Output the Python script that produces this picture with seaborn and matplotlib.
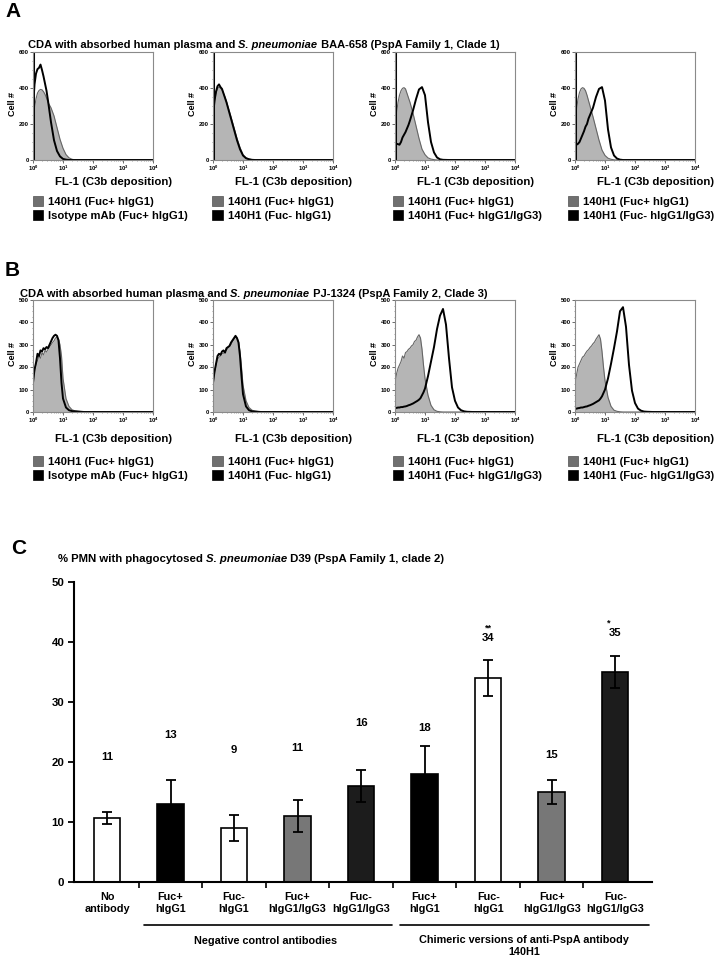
import numpy as np
import pandas as pd
import matplotlib
matplotlib.use("Agg")
import matplotlib.pyplot as plt
import seaborn as sns
from matplotlib.patches import Patch

sns.set_style("ticks")
plt.rcParams['font.family'] = ['Liberation Sans', 'DejaVu Sans']
plt.rcParams['font.weight'] = 'bold'
plt.rcParams['mathtext.fontset'] = 'custom'
plt.rcParams['mathtext.rm'] = 'Liberation Sans:bold'
plt.rcParams['mathtext.bf'] = 'Liberation Sans:bold'
plt.rcParams['mathtext.default'] = 'bf'
for k in ['text.color', 'axes.labelcolor', 'xtick.color', 'ytick.color']:
    plt.rcParams[k] = 'black'

# ---- data: flow histograms (x = log10 FL-1, y = cell count) ----
x_a = [0.0, 0.05, 0.1, 0.15, 0.2, 0.25, 0.3, 0.35, 0.4, 0.45, 0.5, 0.6, 0.7, 0.8,
       0.9, 1.0, 1.1, 1.2, 1.3, 1.4, 1.5, 1.6, 1.8, 4.0]
a1_gray = [230, 290, 340, 372, 386, 392, 390, 380, 365, 345, 320, 290, 245, 180, 115, 65, 30, 12, 4, 1, 0, 0, 0, 0]
a1_black = [290, 420, 480, 505, 512, 530, 500, 465, 425, 385, 330, 210, 110, 50, 20, 6, 2, 0, 0, 0, 0, 0, 0, 0]
a2_gray = [220, 310, 365, 395, 405, 400, 390, 370, 350, 325, 295, 240, 180, 120, 70, 30, 12, 5, 2, 0, 0, 0, 0, 0]
a2_black = [240, 330, 380, 410, 420, 405, 395, 370, 345, 320, 290, 230, 170, 110, 60, 25, 10, 4, 1, 0, 0, 0, 0, 0]
a3_gray = [220, 260, 320, 360, 385, 398, 402, 395, 370, 345, 320, 260, 190, 120, 60, 30, 12, 5, 2, 0, 0, 0, 0, 0]
a3_black = [95, 90, 88, 85, 100, 125, 140, 155, 175, 195, 220, 275, 338, 392, 405, 360, 210, 100, 42, 14, 4, 1, 0, 0]
a4_gray = [230, 280, 340, 375, 395, 402, 398, 385, 360, 330, 300, 240, 175, 110, 55, 25, 10, 4, 1, 0, 0, 0, 0, 0]
a4_black = [90, 85, 90, 100, 120, 140, 160, 185, 200, 230, 250, 290, 350, 395, 405, 330, 170, 70, 25, 8, 2, 0, 0, 0]
a_spike = [600, 600, 600, 600]

x_b = [0.0, 0.05, 0.1, 0.15, 0.2, 0.25, 0.3, 0.35, 0.4, 0.45, 0.5, 0.55, 0.6, 0.65, 0.7,
       0.75, 0.8, 0.85, 0.9, 0.95, 1.0, 1.1, 1.2, 1.3, 1.4, 1.5, 1.6, 1.7, 1.8, 1.9,
       2.0, 2.1, 2.2, 2.3, 2.4, 2.6, 4.0]
b1_gray = [125, 175, 210, 230, 250, 240, 265, 255, 275, 268, 280, 290, 300, 310, 318, 330, 335, 325, 300, 250,
           150, 60, 25, 10, 5, 3, 2, 1, 0, 0, 0, 0, 0, 0, 0, 0, 0]
b1_black = [130, 190, 220, 260, 250, 275, 270, 285, 280, 290, 285, 300, 315, 330, 340, 345, 340, 320, 240, 130,
            60, 20, 8, 4, 3, 2, 1, 0, 0, 0, 0, 0, 0, 0, 0, 0, 0]
b2_gray = [125, 170, 205, 235, 245, 250, 260, 262, 270, 275, 285, 292, 300, 315, 325, 335, 330, 315, 270, 200,
           120, 50, 20, 8, 4, 2, 1, 0, 0, 0, 0, 0, 0, 0, 0, 0, 0]
b2_black = [130, 180, 215, 250, 260, 255, 270, 275, 265, 285, 290, 295, 310, 320, 330, 340, 330, 310, 250, 160,
            80, 25, 8, 3, 2, 1, 0, 0, 0, 0, 0, 0, 0, 0, 0, 0, 0]
b3_gray = [130, 170, 195, 210, 225, 250, 240, 265, 270, 280, 285, 295, 300, 315, 320, 335, 345, 330, 280, 210,
           150, 75, 30, 10, 3, 1, 0, 0, 0, 0, 0, 0, 0, 0, 0, 0, 0]
b3_black = [20, 18, 20, 20, 22, 22, 24, 25, 27, 30, 32, 35, 38, 42, 46, 50, 55, 62, 75, 88,
            105, 160, 225, 290, 370, 430, 460, 390, 240, 110, 50, 20, 8, 3, 1, 0, 0]
b4_gray = [130, 165, 200, 215, 230, 245, 250, 262, 272, 278, 288, 295, 305, 312, 325, 335, 345, 325, 270, 200,
           140, 65, 25, 8, 3, 1, 0, 0, 0, 0, 0, 0, 0, 0, 0, 0, 0]
b4_black = [15, 15, 17, 18, 20, 20, 22, 24, 25, 28, 30, 33, 36, 40, 44, 48, 52, 60, 70, 85,
            100, 150, 215, 285, 360, 450, 468, 380, 210, 95, 40, 15, 6, 2, 1, 0, 0]

gray_label = '140H1 (Fuc+ hIgG1)'
black_labels = ['Isotype mAb (Fuc+ hIgG1)', '140H1 (Fuc- hIgG1)',
                '140H1 (Fuc+ hIgG1/IgG3)', '140H1 (Fuc- hIgG1/IgG3)']
hist_xticklabels = ['$10^0$', '$10^1$', '$10^2$', '$10^3$', '$10^4$']

# ---- data: phagocytosis bar chart ----
conditions = ['none', 'ctl_fucpos_g1', 'ctl_fucneg_g1', 'ctl_fucpos_g13', 'ctl_fucneg_g13',
              'mab_fucpos_g1', 'mab_fucneg_g1', 'mab_fucpos_g13', 'mab_fucneg_g13']
tick_labels = ['No\nantibody', 'Fuc+\nhIgG1', 'Fuc-\nhIgG1', 'Fuc+\nhIgG1/IgG3', 'Fuc-\nhIgG1/IgG3',
               'Fuc+\nhIgG1', 'Fuc-\nhIgG1', 'Fuc+\nhIgG1/IgG3', 'Fuc-\nhIgG1/IgG3']
pct_mean = [10.7, 13, 9, 11, 16, 18, 34, 15, 35]
pct_err = [1.0, 4.0, 2.2, 2.7, 2.6, 4.6, 3.0, 2.0, 2.7]
value_labels = ['11', '13', '9', '11', '16', '18', '34', '15', '35']
star_labels = ['', '', '', '', '', '', '**', '', '*']
bar_colors = ['white', 'black', 'white', '#777777', '#1c1c1c', 'black', 'white', '#777777', '#1c1c1c']

# ---- layout helpers (pixels) ----
W, H = 720, 958
fig = plt.figure(figsize=(7.2, 9.58), dpi=100)


def box(left, top, right, bottom):
    return [left / W, 1 - bottom / H, (right - left) / W, (bottom - top) / H]


def ftext(x, y, s, **kw):
    return fig.text(x / W, 1 - y / H, s, **kw)


def mixed_title(host, x, y, parts, size):
    prev = None
    for txt, style in parts:
        if prev is None:
            prev = ftext(x, y, txt, fontsize=size, fontweight='bold', style=style, va='bottom')
        else:
            prev = host.annotate(txt, xy=(1, 0), xycoords=prev, va='bottom', ha='left',
                                 fontsize=size, fontweight='bold', style=style, annotation_clip=False)


def hist_panel(rect, xs, gray, black, ymax, ystep, black_label, spike, xlab_y, leg_x, leg_y):
    ax = fig.add_axes(rect)
    ax.fill_between(xs, gray, color='#b5b5b5', lw=0)
    sns.lineplot(x=xs, y=gray, color='#666666', lw=0.8, estimator=None, sort=False, ax=ax)
    if spike:
        ax.vlines(0.0, 0, spike, color='black', lw=2.2)
    sns.lineplot(x=xs, y=black, color='black', lw=1.4, estimator=None, sort=False, ax=ax)
    ax.set_xlim(0, 4)
    ax.set_ylim(0, ymax)
    ax.set_xticks(range(5))
    ax.set_xticklabels(hist_xticklabels)
    ax.set_xticks([d + np.log10(k) for d in range(4) for k in range(2, 10)], minor=True)
    ax.set_yticks(np.arange(0, ymax + 1, ystep))
    ax.set_yticks(np.arange(0, ymax + 1, ystep / 4), minor=True)
    ax.tick_params(which='major', labelsize=4.2, length=2, width=0.6, pad=1, color='#555555')
    ax.tick_params(which='minor', length=1, width=0.4, color='#555555')
    for s in ax.spines.values():
        s.set_color('#8a8a8a')
        s.set_linewidth(0.8)
    ax.set_ylabel('Cell #', fontsize=6.5, fontweight='bold')
    ax.yaxis.set_label_coords(-0.13, 0.52)
    ax.set_xlabel('FL-1 (C3b deposition)', fontsize=8.2, fontweight='bold')
    ax.xaxis.set_label_coords(0.67, xlab_y)
    handles = [Patch(facecolor='#707070', edgecolor='#505050', lw=0.5),
               Patch(facecolor='black', edgecolor='black', lw=0.5)]
    ax.legend(handles, [gray_label, black_label], loc='upper left', bbox_to_anchor=(leg_x, leg_y),
              frameon=False, prop={'size': 8.1, 'weight': 'bold'}, handlelength=0.9, handleheight=1.0,
              handletextpad=0.45, labelspacing=0.28, borderpad=0, borderaxespad=0)
    return ax


lefts = [33, 213, 395, 575]
leg_shift = [0.0, -0.005, -0.015, -0.06]
a_sets = [(a1_gray, a1_black), (a2_gray, a2_black), (a3_gray, a3_black), (a4_gray, a4_black)]
b_sets = [(b1_gray, b1_black), (b2_gray, b2_black), (b3_gray, b3_black), (b4_gray, b4_black)]

axes_a = []
for i, (g, b) in enumerate(a_sets):
    axes_a.append(hist_panel(box(lefts[i], 52, lefts[i] + 120, 160), x_a, g, b, 600, 200,
                             black_labels[i], a_spike[i], -0.155, leg_shift[i], -0.33))
for i, (g, b) in enumerate(b_sets):
    hist_panel(box(lefts[i], 300, lefts[i] + 120, 412), x_b, g, b, 500, 100,
               black_labels[i], None, -0.195, leg_shift[i], -0.39)

# panel letters and titles
ftext(5, 21, 'A', fontsize=15, fontweight='bold', va='bottom')
ftext(5, 280, 'B', fontsize=15, fontweight='bold', va='bottom')
ftext(11, 558, 'C', fontsize=15, fontweight='bold', va='bottom')

mixed_title(axes_a[0], 28, 50, [('CDA with absorbed human plasma and ', 'normal'),
                                ('S. pneumoniae', 'italic'),
                                (' BAA-658 (PspA Family 1, Clade 1)', 'normal')], 8)
mixed_title(axes_a[0], 20, 299, [('CDA with absorbed human plasma and ', 'normal'),
                                 ('S. pneumoniae', 'italic'),
                                 (' PJ-1324 (PspA Family 2, Clade 3)', 'normal')], 8)

# ---- panel C ----
axc = fig.add_axes(box(74, 582, 652, 882))
df = pd.DataFrame({'condition': conditions, 'pct': pct_mean})
sns.barplot(data=df, x='condition', y='pct', hue='condition', palette=bar_colors, legend=False,
            width=0.42, edgecolor='black', linewidth=1.2, errorbar=None, ax=axc)
axc.errorbar(np.arange(len(pct_mean)), pct_mean, yerr=pct_err, fmt='none', ecolor='black',
             elinewidth=1.3, capsize=3.5, capthick=1.3)
axc.set_xlim(-0.52, 8.58)
axc.set_ylim(0, 50)
axc.set_yticks(range(0, 51, 10))
axc.set_xticks(range(len(tick_labels)))
axc.set_xticklabels(tick_labels, fontsize=7.8, fontweight='bold', linespacing=1.3)
axc.set_xticks(np.arange(len(tick_labels) - 1) + 0.5, minor=True)
axc.tick_params(axis='x', which='major', length=0, pad=7)
axc.tick_params(axis='x', which='minor', length=4, width=1.2)
axc.tick_params(axis='y', length=4, width=1.3, labelsize=8.2, pad=3)
for lab in axc.get_yticklabels():
    lab.set_fontweight('bold')
axc.set_xlabel('')
axc.set_ylabel('')
sns.despine(ax=axc)
for s in ['left', 'bottom']:
    axc.spines[s].set_linewidth(1.5)
    axc.spines[s].set_color('black')

label_y = [20.8, 24.5, 22.0, 22.3, 26.5, 25.7, 40.7, 21.2, 41.5]
for i, (v, s) in enumerate(zip(value_labels, star_labels)):
    axc.text(i, label_y[i], v, ha='center', va='center', fontsize=8.2, fontweight='bold')
    if s:
        axc.text(i - 0.1 if len(s) == 1 else i, label_y[i] + 1.6, s, ha='center', va='center',
                 fontsize=6.5, fontweight='bold')

tr = axc.get_xaxis_transform()
axc.plot([0.58, 4.49], [-0.143, -0.143], transform=tr, clip_on=False, color='black', lw=1.2)
axc.plot([4.61, 8.53], [-0.143, -0.143], transform=tr, clip_on=False, color='black', lw=1.2)
axc.text(2.5, -0.197, 'Negative control antibodies', transform=tr, ha='center', va='center',
         fontsize=7.8, fontweight='bold')
axc.text(6.57, -0.213, 'Chimeric versions of anti-PspA antibody\n140H1', transform=tr, ha='center',
         va='center', fontsize=7.8, fontweight='bold', linespacing=1.3)

mixed_title(axc, 58, 564, [('% PMN with phagocytosed ', 'normal'),
                           ('S. pneumoniae', 'italic'),
                           (' D39 (PspA Family 1, clade 2)', 'normal')], 8.2)

fig.savefig('out.png', dpi=100)
